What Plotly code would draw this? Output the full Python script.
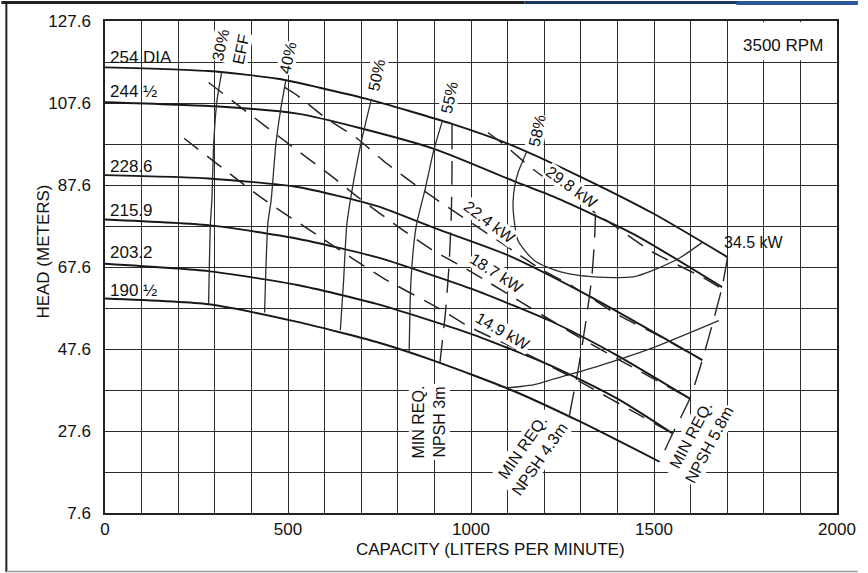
import plotly.graph_objects as go

# ---------------- data ----------------
# Head-capacity curves for each impeller diameter (Q in L/min, H in m)
q_254 = [0, 283, 472, 715, 948, 1100, 1281, 1497, 1701]
h_254 = [116.3, 115.4, 113.5, 108.6, 102.5, 97.7, 90.4, 80.7, 70.0]
q_244 = [0, 300, 526, 696, 903, 1119, 1227, 1443, 1686]
h_244 = [107.8, 106.8, 105.0, 101.5, 96.3, 88.5, 84.7, 75.7, 62.7]
q_228 = [0, 283, 526, 742, 903, 1100, 1327, 1632]
h_228 = [90.0, 89.2, 87.1, 82.5, 77.0, 70.5, 60.3, 44.9]
q_215 = [0, 283, 526, 742, 1000, 1227, 1400, 1598]
h_215 = [79.2, 77.8, 74.5, 70.0, 62.3, 54.0, 46.0, 35.5]
q_203 = [0, 283, 526, 742, 1000, 1227, 1400, 1551]
h_203 = [68.4, 66.6, 63.2, 58.6, 51.3, 43.2, 35.5, 27.0]
q_190 = [0, 283, 526, 742, 900, 1110, 1300, 1515]
h_190 = [59.9, 58.5, 54.2, 49.3, 44.7, 37.6, 29.8, 20.1]
dia_labels = ["254 DIA", "244 \u00bd", "228.6", "215.9", "203.2", "190 \u00bd"]
dia_label_head = [118.8, 110.3, 92.0, 81.4, 71.1, 61.9]

# Iso-efficiency curves
q_e30 = [319, 306, 297, 292, 288, 283]
h_e30 = [115.2, 108.2, 97.7, 83.9, 78.2, 58.5]
q_e40 = [494, 480, 467, 454, 445, 436]
h_e40 = [113.1, 106.0, 97.7, 83.9, 78.3, 56.5]
q_e50 = [728, 701, 683, 661, 652, 643]
h_e50 = [108.6, 98.5, 90.4, 78.2, 64.4, 52.2]
q_e55 = [921, 898, 876, 850, 836, 831]
h_e55 = [103.0, 96.0, 87.1, 77.4, 64.4, 46.7]
q_e58 = [1153, 1146, 1130, 1119, 1115, 1116, 1128, 1150, 1173, 1210, 1245,
         1290, 1335, 1390, 1443, 1497, 1570, 1632]
h_e58 = [95.9, 94.4, 91.0, 87.1, 83.5, 80.6, 74.1, 71.3, 69.2, 67.5, 66.4,
         65.6, 65.2, 65.0, 65.2, 66.8, 69.8, 73.6]
q_e55r = [1075, 1101, 1173, 1227, 1350, 1500, 1677]
h_e55r = [38.6, 38.2, 38.9, 40.3, 43.5, 48.0, 54.5]
eff_labels = ["30%<br>EFF", "40%", "50%", "55%", "58%"]
eff_label_q = [343, 499, 742, 941, 1181]
eff_label_h = [121.1, 118.5, 114.3, 109.0, 100.9]

# Power lines (kW)
q_p149 = [216, 426, 593, 760, 912, 998, 1150, 1300, 1450, 1551]
h_p149 = [99.0, 84.6, 74.6, 64.9, 57.5, 52.9, 46.5, 39.5, 32.0, 27.0]
q_p187 = [283, 499, 620, 693, 814, 895, 984, 1276, 1416, 1596]
h_p187 = [112.6, 97.8, 89.7, 84.5, 76.6, 71.7, 67.3, 51.5, 44.4, 35.6]
q_p224 = [491, 526, 601, 688, 769, 850, 930, 1133, 1181, 1281, 1400, 1520, 1632]
h_p224 = [111.4, 109.4, 104.1, 99.0, 92.9, 87.5, 82.6, 70.5, 67.6, 62.7, 56.0, 50.5, 44.9]
q_p298 = [1046, 1092, 1173, 1397, 1497, 1632, 1678]
h_p298 = [100.4, 97.3, 91.2, 77.3, 71.2, 65.1, 62.7]
kw_labels = ["14.9 kW", "18.7 kW", "22.4 kW", "29.8 kW", "34.5 kW"]
kw_label_q = [1087, 1071, 1052, 1276, 1772]
kw_label_h = [51.9, 66.1, 78.5, 87.0, 73.6]
kw_label_angle = [30, 33, 37, 36, 0]

# Minimum required NPSH lines
q_n3 = [948, 948, 946, 940, 930, 915]
h_n3 = [102.3, 90.0, 80.0, 68.0, 56.3, 44.2]
q_n43 = [1340, 1338, 1330, 1315, 1294, 1268]
h_n43 = [80.6, 75.0, 65.1, 55.0, 43.2, 31.0]
q_n58 = [1701, 1686, 1660, 1632, 1598, 1551, 1515]
h_n58 = [70.0, 62.7, 53.8, 44.9, 35.5, 27.0, 20.1]
npsh_labels = ["MIN REQ.<br>NPSH 3m", "MIN REQ.<br>NPSH 4.3m", "MIN REQ.<br>NPSH 5.8m"]
npsh_label_q = [885, 1165, 1626]
npsh_label_h = [29.9, 22.2, 25.4]
npsh_label_angle = [-90, -55, -62]

x_ticks = [0, 500, 1000, 1500, 2000]
y_ticks = [7.6, 27.6, 47.6, 67.6, 87.6, 107.6, 127.6]
y_tick_text = ["7.6", "27.6", "47.6", "67.6", "87.6", "107.6", "127.6"]

# ---------------- figure ----------------
INK = "#181818"
FONT = "Liberation Sans, Arial, sans-serif"
fig = go.Figure()

def add_line(q, h, width=1.8, dash="solid", color=INK):
    fig.add_trace(go.Scatter(x=q, y=h, mode="lines", line=dict(color=color, width=width, dash=dash,
                                                                 shape="spline", smoothing=0.6),
                             hoverinfo="skip", showlegend=False))

for q, h in [(q_254, h_254), (q_244, h_244), (q_228, h_228), (q_215, h_215), (q_203, h_203), (q_190, h_190)]:
    add_line(q, h, width=1.9)
for q, h in [(q_e30, h_e30), (q_e40, h_e40), (q_e50, h_e50), (q_e55, h_e55), (q_e58, h_e58), (q_e55r, h_e55r)]:
    add_line(q, h, width=1.3, color="#2e2e2e")
for q, h in [(q_p149, h_p149), (q_p187, h_p187), (q_p224, h_p224), (q_p298, h_p298)]:
    add_line(q, h, width=1.5, dash="18px,11px", color="#252525")
for q, h in [(q_n3, h_n3), (q_n43, h_n43), (q_n58, h_n58)]:
    add_line(q, h, width=1.4, dash="24px,12px", color="#252525")

ann = []
for t, hy in zip(dia_labels, dia_label_head):
    ann.append(dict(x=8, y=hy, text=t, xanchor="left", yanchor="middle", font=dict(size=17)))
for t, qx, hy in zip(eff_labels, eff_label_q, eff_label_h):
    ann.append(dict(x=qx, y=hy, text=t, textangle=-78, font=dict(size=16), bgcolor="white", borderpad=0))
for t, qx, hy, a in zip(kw_labels, kw_label_q, kw_label_h, kw_label_angle):
    ann.append(dict(x=qx, y=hy, text=t, textangle=a, font=dict(size=16),
                    bgcolor="white" if a else "rgba(0,0,0,0)", borderpad=0))
for t, qx, hy, a in zip(npsh_labels, npsh_label_q, npsh_label_h, npsh_label_angle):
    ann.append(dict(x=qx, y=hy, text=t, textangle=a, font=dict(size=16), bgcolor="white", borderpad=1))
ann.append(dict(x=1852, y=121.6, text="3500 RPM", font=dict(size=17)))
ann.append(dict(x=(496 - 105) / 742, y=(513 - 550) / 493, xref="paper", yref="paper",
                xanchor="center", yanchor="middle",
                text="CAPACITY (LITERS PER MINUTE)", font=dict(size=17)))
ann.append(dict(x=(41.7 - 105) / 742, y=(513 - 251.5) / 493, xref="paper", yref="paper",
                xanchor="center", yanchor="middle",
                text="HEAD (METERS)", textangle=-90, font=dict(size=17)))
for a in ann:
    a.setdefault("showarrow", False)
    a.setdefault("font", {})
    a["font"].setdefault("color", "#111")
    a["font"]["family"] = FONT

shapes = [
    # blank "3500 RPM" cell (no minor verticals there)
    dict(type="rect", xref="x", yref="y", x0=1703, x1=1998, y0=118.0, y1=127.3,
         fillcolor="white", line=dict(width=0), layer="between"),
    # outer frame of the picture
    dict(type="line", xref="paper", yref="paper", x0=(5 - 105) / 742, x1=(5 - 105) / 742,
         y0=(513 - 2) / 493, y1=(513 - 572) / 493, line=dict(color="#222", width=2)),
    dict(type="line", xref="paper", yref="paper", x0=-105 / 742, x1=(530 - 105) / 742,
         y0=(513 - 1.5) / 493, y1=(513 - 1.5) / 493, line=dict(color="#222", width=3)),
    dict(type="line", xref="paper", yref="paper", x0=(530 - 105) / 742, x1=(868 - 105) / 742,
         y0=(513 - 1.5) / 493, y1=(513 - 1.5) / 493, line=dict(color="#1d3563", width=3)),
    dict(type="line", xref="paper", yref="paper", x0=(745 - 105) / 742, x1=(868 - 105) / 742,
         y0=(513 - 2) / 493, y1=(513 - 2) / 493, line=dict(color="#2a5597", width=4)),
    dict(type="line", xref="paper", yref="paper", x0=(5 - 105) / 742, x1=(868 - 105) / 742,
         y0=(513 - 571.5) / 493, y1=(513 - 571.5) / 493, line=dict(color="#9a9a9a", width=1.5)),
]

grid = "#2c2c2c"
fig.update_layout(
    width=868, height=573,
    margin=dict(l=105, r=21, t=20, b=60),
    paper_bgcolor="white", plot_bgcolor="white",
    font=dict(family=FONT, color="#111"),
    annotations=ann, shapes=shapes,
    xaxis=dict(range=[0, 2000], tickmode="array", tickvals=x_ticks,
               showgrid=True, gridcolor=grid, gridwidth=1.3, zeroline=False,
               showline=True, mirror=True, linecolor="#222", linewidth=1.5,
               ticks="", tickfont=dict(size=17, color="#111"), ticklabelstandoff=0,
               minor=dict(tickmode="linear", tick0=0, dtick=100, showgrid=True,
                          gridcolor=grid, gridwidth=1.3)),
    yaxis=dict(range=[7.6, 127.6], tickmode="array", tickvals=y_ticks, ticktext=y_tick_text,
               showgrid=True, gridcolor=grid, gridwidth=1.3, zeroline=False,
               showline=True, mirror=True, linecolor="#222", linewidth=1.5,
               ticks="", tickfont=dict(size=17, color="#111"), ticklabelstandoff=9,
               minor=dict(tickmode="linear", tick0=7.6, dtick=10, showgrid=True,
                          gridcolor=grid, gridwidth=1.3)),
)

fig.write_html("out.html", config={"displayModeBar": False},
               post_script="document.body.style.margin='0px';document.body.style.overflow='hidden';")
